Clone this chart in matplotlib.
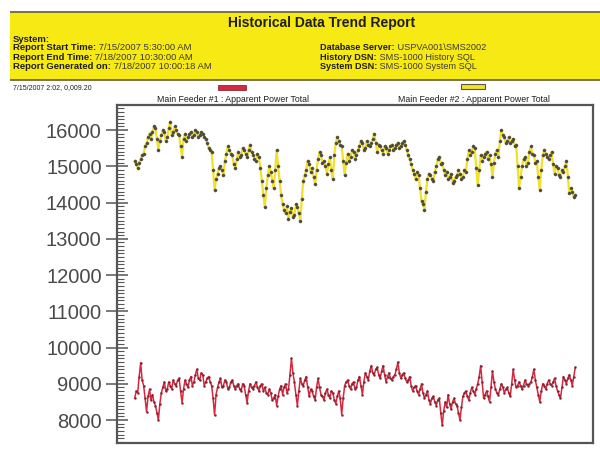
"""Historical Data Trend Report: apparent power on the two main feeders.

Report page layout: a yellow header band with the report metadata, a small
legend line, then one framed trend plot holding both feeder traces.
Output: out.png (600x453).
"""
import matplotlib

matplotlib.use("Agg")
import matplotlib.pyplot as plt
import numpy as np
from matplotlib.patches import Rectangle
from matplotlib.ticker import MultipleLocator

# Apparent power total, kVA, one sample per logging interval.
FEEDER2 = [
    15150, 15050, 14950, 15100, 15200, 15300, 15350, 15550, 15650, 15800,
    15900, 15750, 15950, 16100, 16050, 15750, 15450, 15700, 15850, 16000,
    15950, 15700, 15800, 16050, 16230, 15850, 15950, 16100, 16000, 15900,
    15850, 15550, 15250, 15750, 15900, 15700, 15800, 15900, 15950, 15800,
    15850, 16000, 15950, 15800, 15850, 15950, 15900, 15800, 15750, 15650,
    15500, 15450, 15400, 14900, 14340, 14650, 14800, 14950, 15000, 14900,
    14750, 15150, 15350, 15550, 15450, 15350, 15300, 15050, 14950, 15200,
    15400, 15250, 15300, 15500, 15450, 15350, 15250, 15450, 15600, 15400,
    15300, 15200, 15150, 15350, 15250, 14950, 14600, 14200, 13870, 14400,
    14750, 15000, 14850, 14600, 14400, 14900, 15450, 15000, 14600, 14200,
    13950, 13800, 13700, 13900, 13550, 13750, 13850, 13600, 13650, 13950,
    13870, 13700, 13500, 14100, 14600, 14750, 14900, 15150, 15050, 14850,
    14950, 14700, 14500, 14900, 15200, 15400, 15300, 15100, 15150, 15000,
    14800, 15050, 15250, 14900, 14650, 15300, 15650, 15800, 15700, 15600,
    15550, 15150, 14750, 15100, 15350, 15150, 15250, 15450, 15400, 15200,
    15300, 15450, 15550, 15700, 15650, 15450, 15500, 15700, 15600, 15550,
    15650, 15750, 15900, 15650, 15400, 15600, 15550, 15450, 15350, 15550,
    15500, 15350, 15450, 15550, 15600, 15450, 15500, 15600, 15650, 15500,
    15550, 15650, 15700, 15600, 15450, 15300, 15200, 15050, 14900, 14800,
    14650, 14850, 14750, 14400, 14050, 13950, 13800, 14300, 14650, 14800,
    14750, 14650, 14600, 14850, 15000, 15200, 15250, 15050, 15100, 14900,
    14750, 14850, 14650, 14700, 14800, 14550, 14600, 14700, 14750, 14900,
    14800, 14650, 14700, 14900, 14850, 15200, 15450, 15300, 15400, 15550,
    15500, 14950, 14480, 14900, 15300, 15150, 15250, 15350, 15400, 15200,
    15300, 15050, 14700, 15100, 15350, 15450, 15250, 15700, 16000, 15850,
    15800, 15650, 15700, 15800, 15650, 15700, 15750, 15550, 15600, 15000,
    14400, 14700, 15000, 15200, 15250, 15000, 15100, 15400, 15550, 15350,
    15300, 15100, 15150, 14700, 14350, 14900, 15300, 15450, 15350, 15250,
    15200, 15300, 15400, 15050, 14800, 15000, 14950, 14750, 14700, 14900,
    14850, 15000, 15150, 14700, 14250, 14400, 14300, 14150, 14200,
]
FEEDER1 = [
    8600, 8800, 8750, 9200, 9580, 9100, 8950, 8600, 8220, 8650,
    8850, 8550, 8700, 8500, 8400, 8200, 8000, 8450, 8750, 8900,
    9050, 8800, 8850, 9050, 8950, 8850, 9100, 9000, 8950, 9100,
    9150, 8800, 8480, 8850, 9100, 9000, 8900, 9100, 9200, 8950,
    9050, 9250, 9400, 9150, 9100, 9300, 9250, 8950, 9050, 9150,
    9200, 9050, 8950, 8600, 8140, 8700, 8900, 9050, 9150, 8900,
    8950, 9100, 9050, 8850, 8900, 9050, 9100, 8950, 8850, 8950,
    9000, 8850, 8800, 9000, 8950, 8700, 8480, 8800, 9000, 8900,
    8850, 8950, 9050, 8900, 8800, 8950, 9000, 8800, 8900, 8750,
    8700, 8850, 8750, 8550, 8600, 8700, 8400, 8650, 8850, 8950,
    8700, 8900, 9000, 8750, 8850, 9250, 9700, 9300, 9050, 8700,
    8400, 8800, 9150, 9000, 8950, 9100, 9200, 8900, 8650, 8850,
    8800, 8650, 8550, 8900, 9150, 8900, 8700, 8650, 8550, 8750,
    8850, 8700, 8600, 8800, 8750, 8550, 8450, 8650, 8800, 8600,
    8150, 8600, 8950, 9050, 9100, 8950, 8850, 9000, 9050, 8850,
    8900, 9100, 9200, 8950, 8700, 9050, 9300, 9200, 9100, 9350,
    9500, 9300, 9250, 9400, 9450, 9250, 9150, 9350, 9500, 9250,
    9050, 9200, 9300, 9150, 9100, 9200, 9250, 9400, 9600, 9300,
    9150, 9250, 9300, 9150, 9050, 9100, 9200, 8950, 8800, 8900,
    8950, 8800, 8700, 8850, 9000, 8750, 8600, 8700, 8800, 8550,
    8450, 8600, 8650, 8500, 8400, 8550, 8600, 8200, 7850, 8250,
    8500, 8350, 8700, 8450, 8300, 8500, 8600, 8450, 8400, 8200,
    8000, 8350, 8650, 8750, 8800, 8650, 8550, 8750, 8900, 8800,
    8700, 8850, 9000, 9200, 9500, 9050, 8600, 8700, 8800, 8650,
    8500, 8900, 9350, 9050, 8850, 8750, 8700, 8850, 9000, 8900,
    8750, 8850, 8900, 8750, 8650, 9000, 9400, 9100, 8900, 8950,
    9050, 8950, 8850, 8950, 9100, 9000, 8950, 9000, 9050, 9200,
    9400, 9100, 8900, 8700, 8500, 8800, 9000, 8950, 8850, 9000,
    9100, 9000, 8950, 9050, 9150, 8950, 8800, 8700, 8600, 8900,
    9200, 9100, 9000, 9150, 9250, 9100, 8950, 9200, 9450,
]

SERIES_NAMES = [
    "Main Feeder #1 : Apparent Power Total",
    "Main Feeder #2 : Apparent Power Total",
]
LEFT_FIELDS = [
    ("Report Start Time:", "7/15/2007 5:30:00 AM"),
    ("Report End Time:", "7/18/2007 10:30:00 AM"),
    ("Report Generated on:", "7/18/2007 10:00:18 AM"),
]
RIGHT_FIELDS = [
    ("Database Server:", "USPVA001\\SMS2002"),
    ("History DSN:", "SMS-1000 History SQL"),
    ("System DSN:", "SMS-1000 System SQL"),
]
STAMP = "7/15/2007 2:02, 0,009.20"

BAND = "#f7ea14"
BAND_EDGE = "#6e6a3a"
INK = "#1e1e1e"
VALUE_INK = "#3a3a3a"
YELLOW = "#f1e02c"
YELLOW_DOT = "#4f4c3c"
RED = "#d8283f"
RED_DOT = "#7a2430"
FRAME = "#555555"

plt.rcParams["font.family"] = ["Liberation Sans", "DejaVu Sans"]

fig = plt.figure(figsize=(6.0, 4.53), dpi=100)
fig.patch.set_facecolor("white")

# Page overlay in pixel units (y down) for the report header.
page = fig.add_axes([0, 0, 1, 1], zorder=0)
page.set_xlim(0, 600)
page.set_ylim(453, 0)
page.set_axis_off()

page.add_patch(Rectangle((10, 12), 595, 68, facecolor=BAND, edgecolor="none"))
page.hlines([12, 80], 10, 600, colors=BAND_EDGE, lw=1.3)

page.text(322, 23, "Historical Data Trend Report", ha="center", va="center",
          fontsize=10, fontweight="bold", color=INK)
page.text(13, 39, "System:", ha="left", va="center", fontsize=6.8,
          fontweight="bold", color=INK)


def field(x, y, label, value, size=6.8):
    t = page.text(x, y, label, ha="left", va="center", fontsize=size,
                  fontweight="bold", color=INK)
    page.annotate(" " + value, xy=(1, 0.5), xycoords=t, ha="left",
                  va="center", fontsize=size, color=VALUE_INK)


for i, (lab, val) in enumerate(LEFT_FIELDS):
    field(13, 48 + 9.2 * i, lab, val)
for i, (lab, val) in enumerate(RIGHT_FIELDS):
    field(320, 48 + 9.2 * i, lab, val, size=6.6)

# Time stamp and legend line under the band.
page.text(13, 88, STAMP, ha="left", va="center", fontsize=5.0, color=INK)
page.add_patch(Rectangle((218, 85), 28, 5, facecolor=RED, edgecolor="#8a2a35",
                         lw=0.6))
page.add_patch(Rectangle((461, 84), 24, 5, facecolor=YELLOW,
                         edgecolor="#5a5640", lw=0.8))
page.text(233, 99, SERIES_NAMES[0], ha="center", va="center", fontsize=6.3,
          color=INK)
page.text(474, 99, SERIES_NAMES[1], ha="center", va="center", fontsize=6.3,
          color=INK)

# Trend plot.
ax = fig.add_axes([117 / 600, 1 - 443 / 453, 476 / 600, 338 / 453], zorder=1)
t2 = np.arange(len(FEEDER2))
t1 = np.arange(len(FEEDER1))
ax.plot(t2, FEEDER2, color=YELLOW, lw=1.6, marker="o", ms=2.3,
        mfc=YELLOW_DOT, mec=YELLOW_DOT, mew=0.2, zorder=3)
ax.plot(t1, FEEDER1, color=RED, lw=1.1, marker="o", ms=1.5,
        mfc=RED_DOT, mec=RED_DOT, mew=0.2, zorder=3)

ax.set_xlim(-12, 310)
ax.set_ylim(7366, 16690)
ax.set_xticks([])
ax.yaxis.set_major_locator(MultipleLocator(1000))
ax.yaxis.set_minor_locator(MultipleLocator(100))
ax.tick_params(axis="y", which="major", direction="inout", length=16,
               width=1.1, color=FRAME, labelsize=14.5, labelcolor="#4a4a4a",
               pad=3)
ax.tick_params(axis="y", which="minor", direction="in", length=5,
               width=0.8, color=FRAME)
for side in ax.spines.values():
    side.set_color(FRAME)
    side.set_linewidth(1.6)

fig.savefig("out.png", dpi=100)
